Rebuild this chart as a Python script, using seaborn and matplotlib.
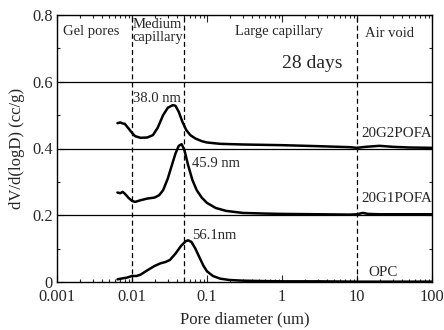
import matplotlib
matplotlib.use("Agg")
import matplotlib.pyplot as plt
import matplotlib.ticker as mticker
import numpy as np
import pandas as pd
import seaborn as sns

# ---- data ----
opc_d = [0.0064, 0.0075, 0.0085, 0.0100, 0.0115, 0.0130, 0.0160, 0.0200, 0.0240,
         0.0280, 0.0320, 0.0380, 0.0450, 0.0520, 0.0561, 0.0620, 0.0700, 0.0800,
         0.0900, 0.1000, 0.1200, 0.1500, 0.2000, 0.3000, 0.5000, 1.0, 3.0, 10.0, 100.0]
opc_v = [0.008, 0.011, 0.013, 0.018, 0.018, 0.022, 0.035, 0.048, 0.056,
         0.060, 0.066, 0.085, 0.108, 0.122, 0.125, 0.120, 0.100, 0.072,
         0.048, 0.032, 0.018, 0.010, 0.006, 0.004, 0.003, 0.002, 0.002, 0.001, 0.001]

g1_d = [0.0064, 0.0070, 0.0075, 0.0080, 0.0090, 0.0100, 0.0110, 0.0130, 0.0160,
        0.0200, 0.0230, 0.0260, 0.0300, 0.0340, 0.0380, 0.0420, 0.0459, 0.0500,
        0.0560, 0.0640, 0.0730, 0.0850, 0.1000, 0.1300, 0.1800, 0.3000, 0.6,
        1.0, 3.0, 8.0, 10.0, 12.0, 14.0, 20.0, 40.0, 100.0]
g1_v = [0.268, 0.266, 0.270, 0.265, 0.252, 0.243, 0.240, 0.245, 0.250,
        0.253, 0.260, 0.275, 0.310, 0.350, 0.385, 0.408, 0.413, 0.395,
        0.350, 0.305, 0.275, 0.253, 0.237, 0.222, 0.213, 0.207, 0.205,
        0.204, 0.203, 0.202, 0.203, 0.207, 0.204, 0.203, 0.203, 0.203]

g2_d = [0.0064, 0.0070, 0.0075, 0.0080, 0.0090, 0.0100, 0.0110, 0.0130, 0.0160,
        0.0190, 0.0220, 0.0260, 0.0300, 0.0350, 0.0380, 0.0420, 0.0470, 0.0530,
        0.0600, 0.0700, 0.0850, 0.1000, 0.1500, 0.3000, 1.0, 3.0, 8.0, 10.0,
        13.0, 20.0, 30.0, 50.0, 100.0]
g2_v = [0.476, 0.478, 0.475, 0.474, 0.460, 0.447, 0.437, 0.432, 0.433,
        0.440, 0.462, 0.500, 0.522, 0.530, 0.528, 0.510, 0.480, 0.455,
        0.440, 0.430, 0.422, 0.418, 0.414, 0.412, 0.410, 0.407, 0.404, 0.402,
        0.405, 0.408, 0.405, 0.403, 0.402]

series_names = ["OPC", "20G1POFA", "20G2POFA"]
x_ticks = [0.001, 0.01, 0.1, 1, 10, 100]
x_tick_labels = ["0.001", "0.01", "0.1", "1", "10", "100"]
y_ticks = [0, 0.2, 0.4, 0.6, 0.8]
y_tick_labels = ["0", "0.2", "0.4", "0.6", "0.8"]

df = pd.concat([
    pd.DataFrame({"d": opc_d, "v": opc_v, "mix": series_names[0]}),
    pd.DataFrame({"d": g1_d, "v": g1_v, "mix": series_names[1]}),
    pd.DataFrame({"d": g2_d, "v": g2_v, "mix": series_names[2]}),
])

sns.set_style("ticks")
plt.rcParams["font.family"] = ["Liberation Serif", "DejaVu Serif"]

fig = plt.figure(figsize=(4.44, 3.30), dpi=100)
ax = fig.add_axes([57 / 444, 1 - 282 / 330, (432 - 57) / 444, (282 - 15) / 330])

# reference lines
for yv in [0.2, 0.4, 0.6]:
    ax.axhline(yv, color="black", lw=0.9, zorder=1)
for xv in [0.01, 0.05, 10]:
    ax.axvline(xv, color="black", lw=0.9, ls=(0, (4, 2.5)), zorder=1)

sns.lineplot(data=df, x="d", y="v", hue="mix", palette=["black"] * 3,
             estimator=None, sort=True, legend=False, lw=1.8, ax=ax, zorder=3)

ax.set_xscale("log")
ax.set_xlim(0.001, 100)
ax.set_ylim(0, 0.8)
ax.set_xticks(x_ticks)
ax.set_xticklabels(x_tick_labels)
ax.xaxis.set_minor_locator(mticker.LogLocator(base=10, subs=np.arange(2, 10), numticks=20))
ax.xaxis.set_minor_formatter(mticker.NullFormatter())
ax.set_yticks(y_ticks)
ax.set_yticklabels(y_tick_labels)
ax.yaxis.set_minor_locator(mticker.MultipleLocator(0.1))

ax.tick_params(which="both", direction="in", top=True, right=True, width=0.8,
               labelsize=11.8)
ax.tick_params(axis="x", pad=5)
ax.tick_params(axis="y", pad=3)
ax.tick_params(which="major", length=5)
ax.tick_params(which="minor", length=2.5)
for s in ax.spines.values():
    s.set_linewidth(1.0)
    s.set_color("black")

ax.set_xlabel("Pore diameter (um)", fontsize=12, labelpad=5)
ax.set_ylabel("dV/d(logD) (cc/g)", fontsize=12, labelpad=5)

# annotations
ax.text(0.0012, 0.752, "Gel pores", fontsize=10.5, va="center", ha="left")
ax.text(0.0102, 0.753, "Medium\ncapillary", fontsize=10.5, va="center", ha="left",
        linespacing=1.0)
ax.text(0.90, 0.752, "Large capillary", fontsize=10.5, va="center", ha="center")
ax.text(12.6, 0.745, "Air void", fontsize=10.5, va="center", ha="left")
ax.text(1.0, 0.656, "28 days", fontsize=14, va="center", ha="left")
ax.text(0.0102, 0.551, "38.0 nm", fontsize=10.5, va="center", ha="left")
ax.text(0.063, 0.355, "45.9 nm", fontsize=10.5, va="center", ha="left")
ax.text(0.064, 0.139, "56.1nm", fontsize=10.5, va="center", ha="left")
ax.text(99.5, 0.444, "20G2POFA", fontsize=10.8, va="center", ha="right")
ax.text(99.5, 0.249, "20G1POFA", fontsize=10.8, va="center", ha="right")
ax.text(14, 0.029, "OPC", fontsize=10.8, va="center", ha="left")

fig.savefig("out.png", dpi=100)
